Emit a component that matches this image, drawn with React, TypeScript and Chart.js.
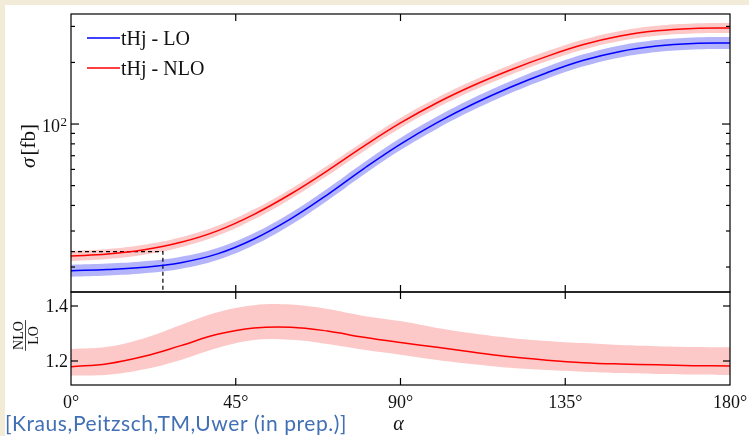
import React, { useEffect, useRef } from 'react';
import { Chart, registerables } from 'chart.js';

Chart.register(...registerables);

// ---------- data ----------
const angles = [0, 10, 20, 30, 40, 50, 60, 70, 80, 90, 100, 110, 120, 130, 140, 150, 160, 170, 180];

const nloCentral = [22.63, 23.15, 24.28, 26.41, 30.06, 36.19, 45.49, 59.05, 77.93, 101.2, 127.1, 154.7, 183.8, 214.2, 244.5, 269.2, 285.4, 293.2, 294.6];
const nloUpper = [23.94, 24.49, 25.69, 27.94, 31.8, 38.29, 48.13, 62.47, 82.45, 107.1, 134.5, 163.7, 194.5, 226.6, 258.7, 284.8, 302.0, 310.2, 311.7];
const nloLower = [21.39, 21.88, 22.95, 24.96, 28.41, 34.21, 43.0, 55.81, 73.66, 95.65, 120.1, 146.2, 173.7, 202.5, 231.1, 254.4, 269.8, 277.1, 278.5];

const loCentral = [19.19, 19.45, 19.95, 21.01, 23.19, 27.42, 34.38, 45.11, 60.6, 79.81, 101.6, 125.6, 151.3, 178.2, 204.8, 226.4, 240.6, 247.8, 249.2];
const loUpper = [20.53, 20.81, 21.35, 22.48, 24.81, 29.34, 36.79, 48.27, 64.84, 85.4, 108.7, 134.4, 161.9, 190.7, 219.1, 242.2, 257.4, 265.1, 266.6];
const loLower = [17.93, 18.18, 18.65, 19.64, 21.67, 25.63, 32.13, 42.16, 56.64, 74.59, 94.95, 117.4, 141.4, 166.5, 191.4, 211.6, 224.9, 231.6, 232.9];

const ratioCentral = [1.179, 1.19, 1.217, 1.256, 1.297, 1.32, 1.323, 1.309, 1.286, 1.267, 1.25, 1.232, 1.215, 1.203, 1.194, 1.189, 1.186, 1.183, 1.182];
const ratioUpper = [1.244, 1.252, 1.283, 1.331, 1.377, 1.403, 1.405, 1.389, 1.364, 1.345, 1.32, 1.3, 1.284, 1.273, 1.265, 1.258, 1.254, 1.251, 1.25];
const ratioLower = [1.147, 1.15, 1.17, 1.204, 1.247, 1.276, 1.277, 1.262, 1.241, 1.223, 1.204, 1.188, 1.175, 1.167, 1.161, 1.156, 1.153, 1.151, 1.149];

const markerAngle = 25.1;
const markerValue = 23.8;

const xTicks = [0, 45, 90, 135, 180];
const xTickLabels = ['0°', '45°', '90°', '135°', '180°'];
const ratioTicks = [1.2, 1.4];
const ratioTickLabels = ['1.2', '1.4'];
const logMajorTicks = [100];
const logMinorTicks = [20, 30, 40, 50, 60, 70, 80, 90, 200, 300];
const legendLabels = ['tHj - LO', 'tHj - NLO'];
const citation = '[Kraus,Peitzsch,TM,Uwer (in prep.)]';

// ---------- styling ----------
const W = 749;
const H = 436;
const RED = '#ff0000';
const BLUE = '#0000ff';
const PINK = 'rgb(252,201,200)';
const LIGHTBLUE = 'rgb(180,180,251)';
const CREAM = '#f1ebd7';
const SERIF = '"Liberation Serif", "DejaVu Serif", serif';
const TENSION = 0.4;

const pts = (xs: number[], ys: number[]) => xs.map((x, i) => ({ x, y: ys[i] }));

function line(ctx: CanvasRenderingContext2D, x1: number, y1: number, x2: number, y2: number) {
  ctx.beginPath();
  ctx.moveTo(x1, y1);
  ctx.lineTo(x2, y2);
  ctx.stroke();
}

const topDecor = {
  id: 'topDecor',
  afterDraw(chart: any) {
    const { ctx, chartArea, scales } = chart;
    const { left, right, top, bottom } = chartArea;
    const x = scales.x;
    const y = scales.y;
    ctx.save();
    ctx.strokeStyle = '#000';
    ctx.lineWidth = 1.2;
    ctx.strokeRect(left, top, right - left, bottom - top);
    xTicks.slice(1, -1).forEach((t) => {
      const px = x.getPixelForValue(t);
      line(ctx, px, bottom, px, bottom - 7);
      line(ctx, px, top, px, top + 7);
    });
    logMajorTicks.forEach((v) => {
      const py = y.getPixelForValue(v);
      line(ctx, left, py, left + 8, py);
      line(ctx, right, py, right - 8, py);
    });
    logMinorTicks.forEach((v) => {
      const py = y.getPixelForValue(v);
      line(ctx, left, py, left + 4, py);
      line(ctx, right, py, right - 4, py);
    });
    // tick label 10^2
    ctx.fillStyle = '#111';
    ctx.textBaseline = 'alphabetic';
    const py = y.getPixelForValue(100);
    ctx.font = `13px ${SERIF}`;
    ctx.textAlign = 'right';
    const supW = ctx.measureText('2').width;
    ctx.fillText('2', left - 4, py + 2);
    ctx.font = `18px ${SERIF}`;
    ctx.fillText('10', left - 4 - supW - 0.5, py + 8);

    // y title: sigma [fb]
    ctx.save();
    ctx.translate(35, 146);
    ctx.rotate(-Math.PI / 2);
    ctx.font = `italic 21px ${SERIF}`;
    const w1 = ctx.measureText('σ').width;
    ctx.font = `21px ${SERIF}`;
    const w2 = ctx.measureText('[fb]').width;
    const gap = 2;
    const sx = -(w1 + gap + w2) / 2;
    ctx.textAlign = 'left';
    ctx.font = `italic 21px ${SERIF}`;
    ctx.fillText('σ', sx, 0);
    ctx.font = `21px ${SERIF}`;
    ctx.fillText('[fb]', sx + w1 + gap, 0);
    ctx.restore();

    // legend
    ctx.lineWidth = 1.5;
    ctx.font = `20px ${SERIF}`;
    ctx.textAlign = 'left';
    const lx = left + 16;
    ctx.strokeStyle = BLUE;
    line(ctx, lx, top + 24, lx + 33, top + 24);
    ctx.fillText(legendLabels[0], lx + 34, top + 31);
    ctx.strokeStyle = RED;
    line(ctx, lx, top + 54, lx + 33, top + 54);
    ctx.fillText(legendLabels[1], lx + 34, top + 61);
    ctx.restore();
  },
};

const bottomDecor = {
  id: 'bottomDecor',
  afterDraw(chart: any) {
    const { ctx, chartArea, scales } = chart;
    const { left, right, top, bottom } = chartArea;
    const x = scales.x;
    const y = scales.y;
    ctx.save();
    ctx.strokeStyle = '#000';
    ctx.lineWidth = 1.2;
    ctx.strokeRect(left, top, right - left, bottom - top);
    xTicks.slice(1, -1).forEach((t) => {
      const px = x.getPixelForValue(t);
      line(ctx, px, bottom, px, bottom - 7);
      line(ctx, px, top, px, top + 7);
    });
    ratioTicks.forEach((v) => {
      const py = y.getPixelForValue(v);
      line(ctx, left, py, left + 7, py);
      line(ctx, right, py, right - 7, py);
    });
    ctx.fillStyle = '#111';
    ctx.textBaseline = 'alphabetic';
    ctx.font = `18px ${SERIF}`;
    ctx.textAlign = 'right';
    ratioTicks.forEach((v, i) => {
      const py = y.getPixelForValue(v);
      ctx.fillText(ratioTickLabels[i], left - 3, py + 6);
    });
    ctx.textAlign = 'center';
    xTicks.forEach((t, i) => {
      const px = x.getPixelForValue(t);
      ctx.fillText(xTickLabels[i], px, bottom + 23);
    });
    // x title
    ctx.font = `italic 20px ${SERIF}`;
    ctx.fillText('α', (left + right) / 2 - 2, bottom + 45);

    // y title: NLO / LO fraction
    ctx.save();
    ctx.translate(25.5, (top + bottom) / 2 - 3);
    ctx.rotate(-Math.PI / 2);
    ctx.font = `14px ${SERIF}`;
    ctx.textAlign = 'center';
    const wn = ctx.measureText('NLO').width;
    ctx.fillText('NLO', 0, -2.5);
    ctx.fillText('LO', 0, 12);
    ctx.lineWidth = 0.8;
    ctx.strokeStyle = '#111';
    line(ctx, -wn / 2 - 1, 0, wn / 2 + 1, 0);
    ctx.restore();

    // citation
    ctx.font = '21px Lato, "Open Sans", sans-serif';
    ctx.textAlign = 'left';
    ctx.fillStyle = '#4170b5';
    const cw = ctx.measureText(citation).width;
    const spacing = Math.max(0, (342 - cw) / citation.length);
    (ctx as any).letterSpacing = `${spacing.toFixed(2)}px`;
    ctx.fillText(citation, 5, 431);
    (ctx as any).letterSpacing = '0px';
    ctx.restore();
  },
};

export default function App() {
  const topRef = useRef<HTMLCanvasElement | null>(null);
  const botRef = useRef<HTMLCanvasElement | null>(null);

  useEffect(() => {
    document.body.style.margin = '0';
    const band = (label: string, data: number[], color: string | null) => ({
      label,
      data: pts(angles, data),
      borderWidth: 0,
      borderColor: 'rgba(0,0,0,0)',
      backgroundColor: color || 'rgba(0,0,0,0)',
      fill: color ? '+1' : false,
      tension: TENSION,
    });
    const topChart = new Chart(topRef.current as HTMLCanvasElement, {
      type: 'line',
      data: {
        datasets: [
          {
            label: legendLabels[1],
            data: pts(angles, nloCentral),
            borderColor: RED,
            borderWidth: 1.5,
            fill: false,
            tension: TENSION,
          },
          {
            label: legendLabels[0],
            data: pts(angles, loCentral),
            borderColor: BLUE,
            borderWidth: 1.5,
            fill: false,
            tension: TENSION,
          },
          {
            label: 'marker',
            data: [
              { x: 0, y: markerValue },
              { x: markerAngle, y: markerValue },
              { x: markerAngle, y: 1 },
            ],
            borderColor: '#000',
            borderWidth: 1.2,
            borderDash: [4, 3],
            fill: false,
            tension: 0,
          },
          band('nloUp', nloUpper, PINK),
          band('nloLo', nloLower, null),
          band('loUp', loUpper, LIGHTBLUE),
          band('loLo', loLower, null),
        ],
      },
      options: {
        responsive: false,
        animation: false,
        devicePixelRatio: 1,
        layout: { padding: { left: 71, right: 19, top: 14, bottom: 144 } },
        elements: { point: { radius: 0 } },
        scales: {
          x: { type: 'linear', min: 0, max: 180, display: false },
          y: { type: 'logarithmic', min: 15.1, max: 345, display: false },
        },
        plugins: {
          legend: { display: false },
          tooltip: { enabled: false },
          filler: { drawTime: 'beforeDatasetsDraw' },
        },
      } as any,
      plugins: [topDecor],
    });

    const botChart = new Chart(botRef.current as HTMLCanvasElement, {
      type: 'line',
      data: {
        datasets: [
          {
            label: 'ratio',
            data: pts(angles, ratioCentral),
            borderColor: RED,
            borderWidth: 1.5,
            fill: false,
            tension: TENSION,
          },
          band('ratioUp', ratioUpper, PINK),
          band('ratioLo', ratioLower, null),
        ],
      },
      options: {
        responsive: false,
        animation: false,
        devicePixelRatio: 1,
        layout: { padding: { left: 71, right: 19, top: 292, bottom: 51 } },
        elements: { point: { radius: 0 } },
        scales: {
          x: { type: 'linear', min: 0, max: 180, display: false },
          y: { type: 'linear', min: 1.1127, max: 1.4509, display: false },
        },
        plugins: {
          legend: { display: false },
          tooltip: { enabled: false },
          filler: { drawTime: 'beforeDatasetsDraw' },
        },
      } as any,
      plugins: [bottomDecor],
    });

    return () => {
      topChart.destroy();
      botChart.destroy();
    };
  }, []);

  return (
    <div style={{ position: 'fixed', left: 0, top: 0, width: W, height: H, background: CREAM, overflow: 'hidden' }}>
      <div style={{ position: 'absolute', left: 5, top: 5, right: 0, bottom: 0, background: '#ffffff' }} />
      <canvas ref={topRef} width={W} height={H} style={{ position: 'absolute', left: 0, top: 0, width: W, height: H }} />
      <canvas ref={botRef} width={W} height={H} style={{ position: 'absolute', left: 0, top: 0, width: W, height: H }} />
    </div>
  );
}
